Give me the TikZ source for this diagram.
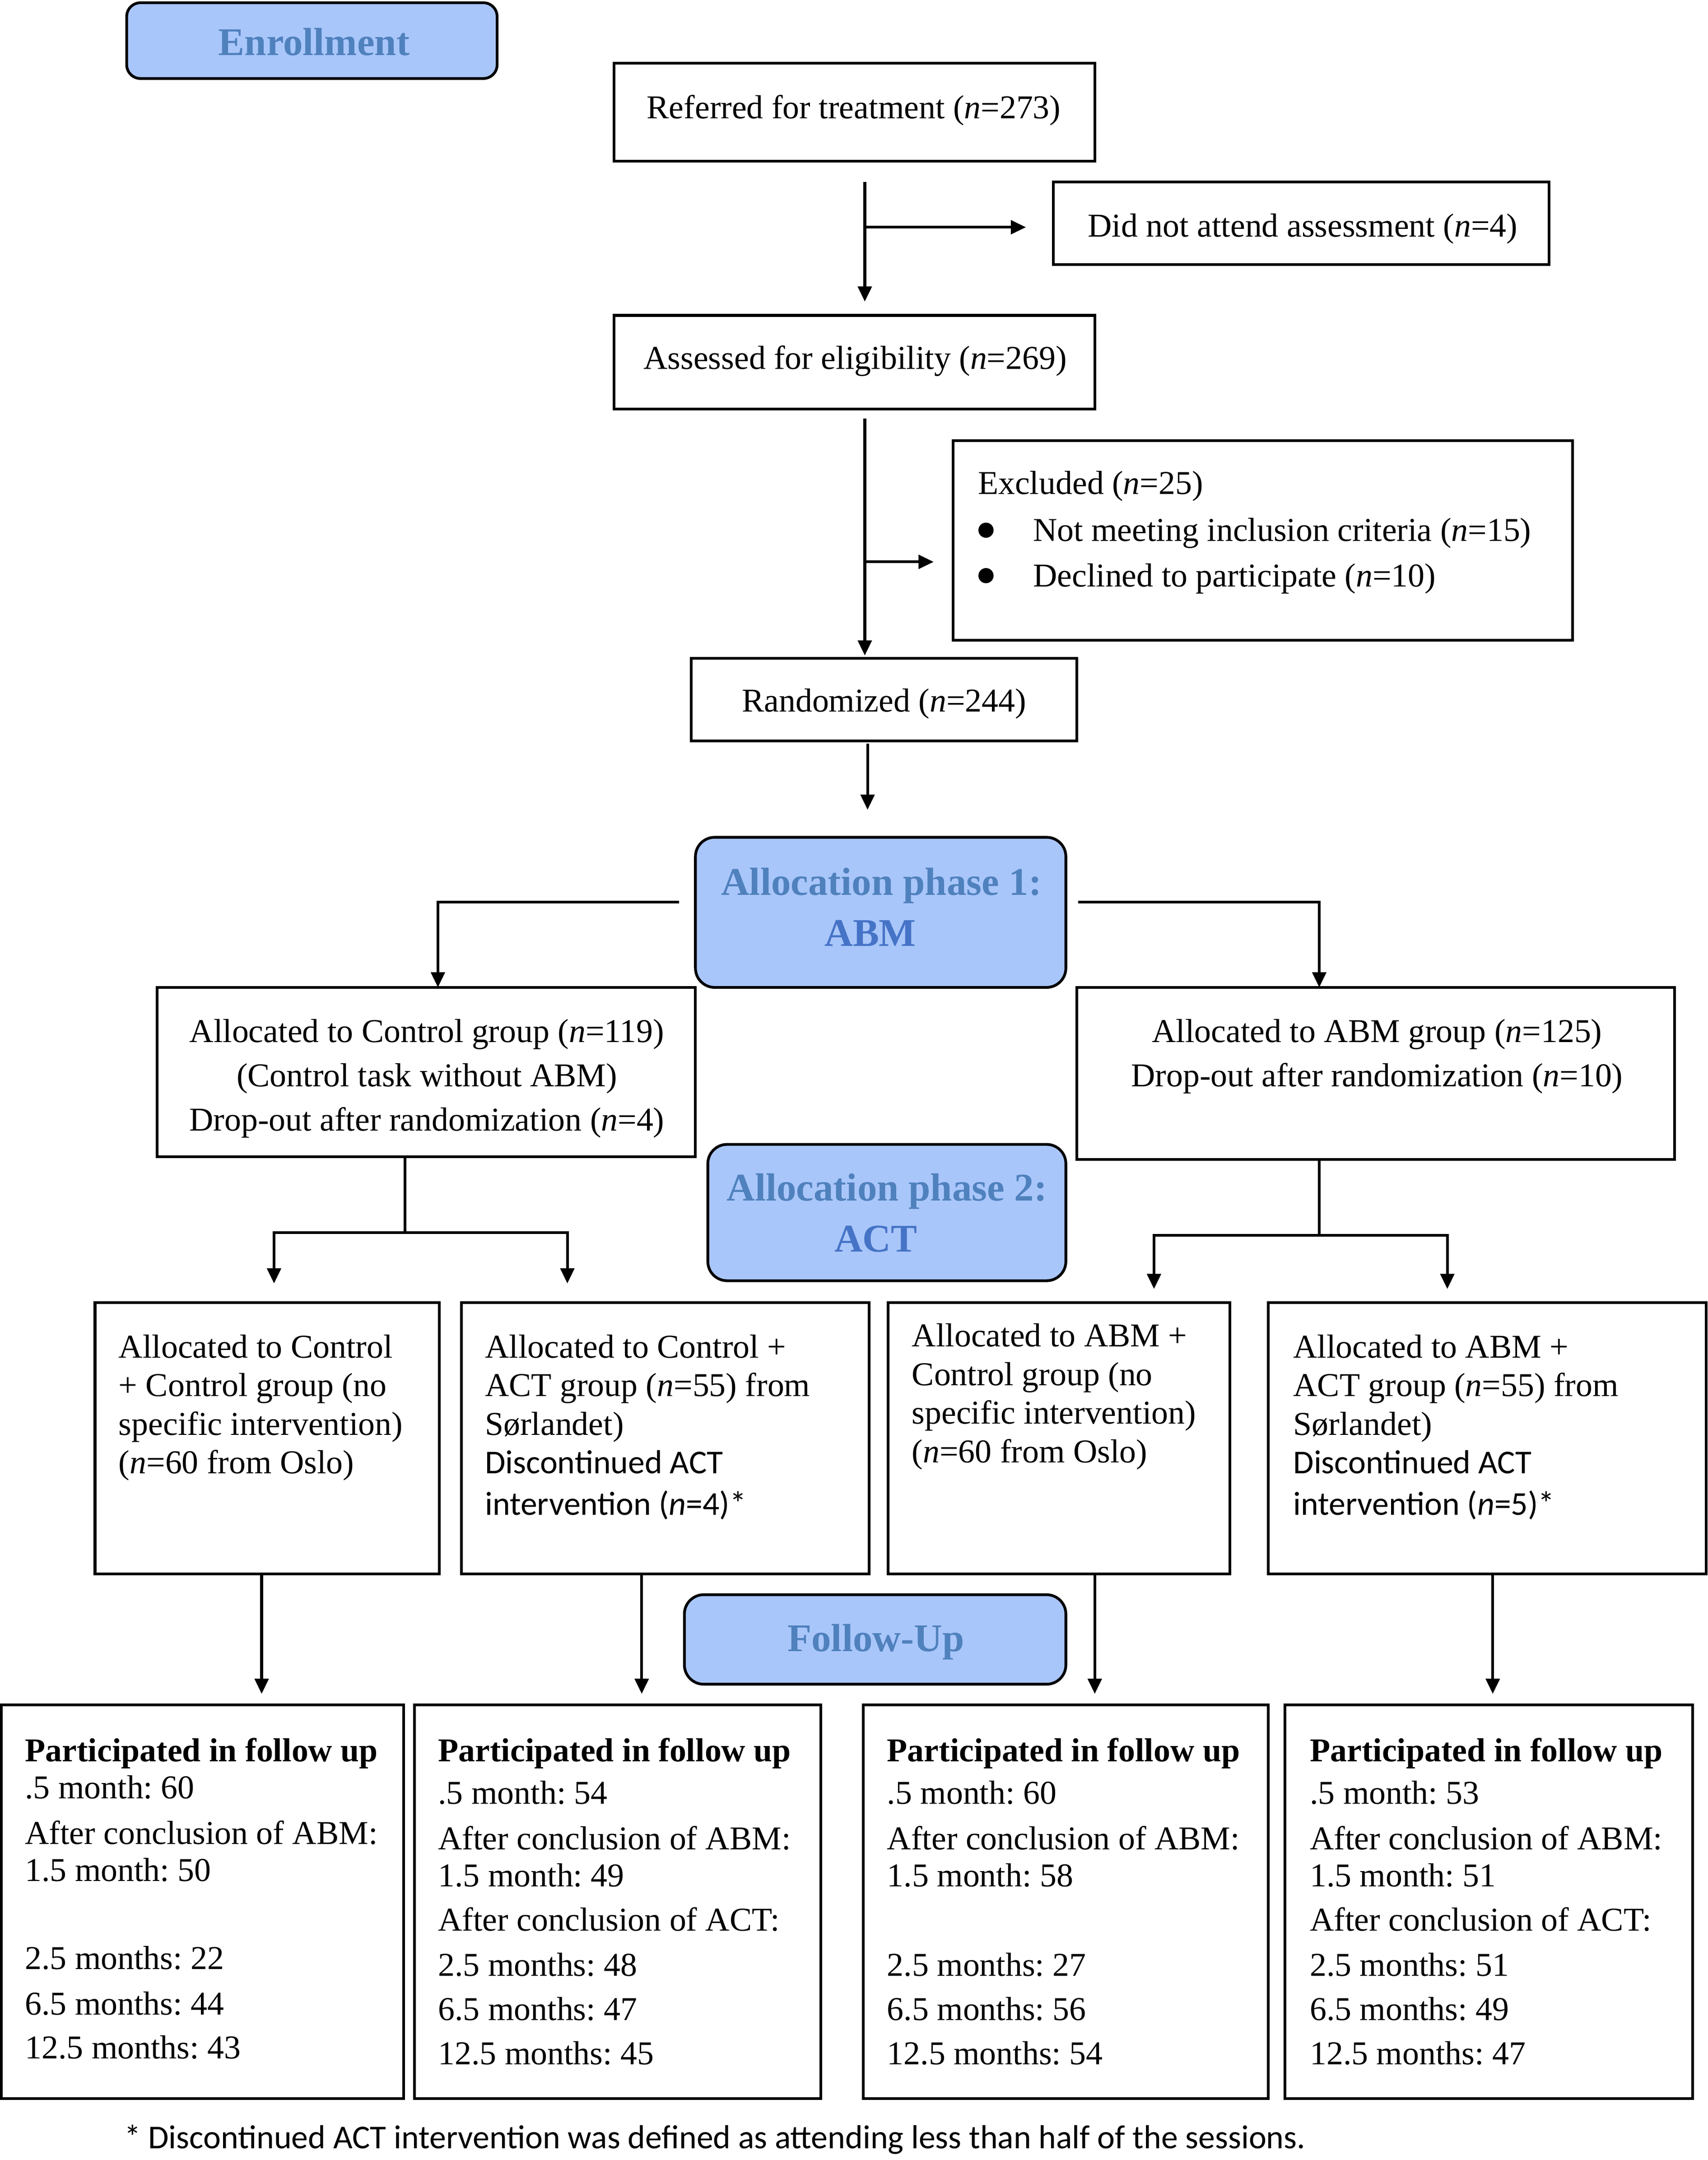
\documentclass[tikz,border=0pt]{standalone}
\usepackage{fontspec}
\setmainfont{Liberation Serif}
\newfontfamily\carlito{Carlito}
\usetikzlibrary{arrows.meta,fit}
\definecolor{phasefill}{HTML}{A9C6FA}
\definecolor{phasetext}{HTML}{4F81BD}
\definecolor{abmtext}{HTML}{4573C6}
\frenchspacing
\begin{document}
\begin{tikzpicture}[x=1pt,y=-1pt,
  box/.style={draw,line width=2pt,inner sep=0pt,outer sep=0pt},
  phase/.style={box,fill=phasefill,rounded corners=14pt},
  txt/.style={inner sep=0pt,anchor=base,font=\fontsize{24.2}{32}\selectfont},
  ltxt/.style={txt,anchor=base west},
  ptxt/.style={inner sep=0pt,anchor=base,font=\fontsize{28.5}{36}\selectfont\bfseries,text=phasetext},
  arr/.style={line width=2pt,-{Triangle[length=11pt,width=10pt]}},
  ln/.style={line width=2pt}]
\useasboundingbox (0,0) rectangle (1240,1568.5);

% ---------- boxes ----------
\node[phase,rounded corners=10pt,fit={(92,2)(361,57)}] (enr) {};
\node[box,fit={(446,46)(795,117)}] (ref) {};
\node[box,fit={(765,132)(1125,192)}] (dna) {};
\node[box,fit={(446,229)(795,297)}] (ass) {};
\node[box,fit={(692,320)(1142,465)}] (exc) {};
\node[box,fit={(502,478)(782,538)}] (rnd) {};
\node[phase,fit={(505,608)(774,717)}] (ph1) {};
\node[box,fit={(114,717)(505,840)}] (ctl) {};
\node[box,fit={(782,717)(1216,842)}] (abm) {};
\node[phase,fit={(514,831)(774,930)}] (ph2) {};
\node[box,fit={(69,946)(319,1143)}] (b1) {};
\node[box,fit={(335,946)(631,1143)}] (b2) {};
\node[box,fit={(645,946)(893,1143)}] (b3) {};
\node[box,fit={(921,946)(1239,1143)}] (b4) {};
\node[phase,fit={(497,1158)(774,1223)}] (fu) {};
\node[box,fit={(1,1238)(293,1524)}] (f1) {};
\node[box,fit={(301,1238)(596,1524)}] (f2) {};
\node[box,fit={(627,1238)(921,1524)}] (f3) {};
\node[box,fit={(933,1238)(1229,1524)}] (f4) {};

% ---------- headings ----------
\node[ptxt] at (228,40) {Enrollment};
\node[ptxt] at (640,650) {Allocation phase 1:};
\node[ptxt,text=abmtext] at (632,687) {ABM};
\node[ptxt] at (644,872) {Allocation phase 2:};
\node[ptxt,text=abmtext] at (636,909) {ACT};
\node[ptxt] at (636,1199) {Follow-Up};

% ---------- texts ----------
\node[txt] at (620,86) {Referred for treatment (\textit{n}=273)};
\node[txt] at (946,172) {Did not attend assessment (\textit{n}=4)};
\node[txt] at (621,268) {Assessed for eligibility (\textit{n}=269)};
\node[ltxt] at (710,359) {Excluded (\textit{n}=25)};
\fill (716,385) circle (5.5);
\fill (716,418) circle (5.5);
\node[ltxt] at (750,393) {Not meeting inclusion criteria (\textit{n}=15)};
\node[ltxt] at (750,426) {Declined to participate (\textit{n}=10)};
\node[txt] at (642,517) {Randomized (\textit{n}=244)};
\node[txt] at (310,757) {\parbox[t]{400pt}{\centering Allocated to Control group (\textit{n}=119)\\(Control task without ABM)\\Drop-out after randomization (\textit{n}=4)}};
\node[txt] at (1000,757) {\parbox[t]{400pt}{\centering Allocated to ABM group (\textit{n}=125)\\Drop-out after randomization (\textit{n}=10)}};

\node[ltxt] at (86,986) {\parbox[t]{400pt}{\fontsize{24.2}{28}\selectfont Allocated to Control\\+ Control group (no\\specific intervention)\\(\textit{n}=60 from Oslo)}};
\node[ltxt] at (352,986) {\parbox[t]{400pt}{\fontsize{24.2}{28}\selectfont Allocated to Control +\\ACT group (\textit{n}=55) from\\Sørlandet)\\{\carlito Discontinued ACT}\\[2pt]{\carlito intervention (\textit{n}=4)*}}};
\node[ltxt] at (662,978) {\parbox[t]{400pt}{\fontsize{24.2}{28}\selectfont Allocated to ABM +\\Control group (no\\specific intervention)\\(\textit{n}=60 from Oslo)}};
\node[ltxt] at (939,986) {\parbox[t]{400pt}{\fontsize{24.2}{28}\selectfont Allocated to ABM +\\ACT group (\textit{n}=55) from\\Sørlandet)\\{\carlito Discontinued ACT}\\[2pt]{\carlito intervention (\textit{n}=5)*}}};

\node[ltxt] at (18,1279) {\parbox[t]{400pt}{\fontsize{24.2}{27}\selectfont \textbf{Participated in follow up}\\.5 month: 60\\[6pt]After conclusion of ABM:\\1.5 month: 50\\[5pt]\mbox{}\\[5pt]2.5 months: 22\\[6pt]6.5 months: 44\\[5pt]12.5 months: 43}};
\node[ltxt] at (318,1279) {\parbox[t]{400pt}{\fontsize{24.2}{27}\selectfont \textbf{Participated in follow up}\\[4pt].5 month: 54\\[6pt]After conclusion of ABM:\\1.5 month: 49\\[5pt]After conclusion of ACT:\\[6pt]2.5 months: 48\\[5pt]6.5 months: 47\\[5pt]12.5 months: 45}};
\node[ltxt] at (644,1279) {\parbox[t]{400pt}{\fontsize{24.2}{27}\selectfont \textbf{Participated in follow up}\\[4pt].5 month: 60\\[6pt]After conclusion of ABM:\\1.5 month: 58\\[5pt]\mbox{}\\[6pt]2.5 months: 27\\[5pt]6.5 months: 56\\[5pt]12.5 months: 54}};
\node[ltxt] at (951,1279) {\parbox[t]{400pt}{\fontsize{24.2}{27}\selectfont \textbf{Participated in follow up}\\[4pt].5 month: 53\\[6pt]After conclusion of ABM:\\1.5 month: 51\\[5pt]After conclusion of ACT:\\[6pt]2.5 months: 51\\[5pt]6.5 months: 49\\[5pt]12.5 months: 47}};

\node[ltxt,font=\carlito\fontsize{24.2}{28}\selectfont] (note) at (90,1560) {* Discontinued ACT intervention was defined as attending less than half of the sessions.};

% ---------- connectors ----------
\coordinate (r1) at (628,132);
\draw[arr,shorten >=10pt] (r1) -- (r1 |- ass.north);
\coordinate (r2) at (628,165);
\draw[arr,shorten >=20pt] (r2) -- (r2 -| dna.west);
\coordinate (a1) at (628,304);
\draw[arr,shorten >=2pt] (a1) -- (a1 |- rnd.north);
\coordinate (a2) at (628,408);
\draw[arr,shorten >=14pt] (a2) -- (a2 -| exc.west);
\coordinate (c1) at (630,540);
\draw[arr,shorten >=20pt] (c1) -- (c1 |- ph1.north);

\coordinate (d1) at (493,655);
\draw[arr] (d1) -| ([xshift=8.5pt]ctl.north);
\coordinate (d2) at (783,655);
\draw[arr] (d2) -| ([xshift=-41pt]abm.north);

\coordinate (e0) at ([xshift=-15.5pt]ctl.south);
\coordinate (e1) at (294,895);
\draw[ln] (e0) -- (e1);
\draw[arr,shorten >=14pt] (e1) -| ([xshift=5pt]b1.north);
\draw[arr,shorten >=14pt] (e1) -| ([xshift=-71pt]b2.north);

\coordinate (h0) at ([xshift=-41pt]abm.south);
\coordinate (h1) at (958,897);
\draw[ln] (h0) -- (h1);
\draw[arr,shorten >=10pt] (h1) -| ([xshift=69pt]b3.north);
\draw[arr,shorten >=10pt] (h1) -| ([xshift=-29pt]b4.north);

\coordinate (g1) at ([xshift=-4pt]b1.south);
\draw[arr,shorten >=8pt] (g1) -- (g1 |- f1.north);
\coordinate (g2) at ([xshift=-17pt]b2.south);
\draw[arr,shorten >=8pt] (g2) -- (g2 |- f2.north);
\coordinate (g3) at ([xshift=26pt]b3.south);
\draw[arr,shorten >=8pt] (g3) -- (g3 |- f3.north);
\coordinate (g4) at ([xshift=4pt]b4.south);
\draw[arr,shorten >=8pt] (g4) -- (g4 |- f4.north);
\end{tikzpicture}
\end{document}
